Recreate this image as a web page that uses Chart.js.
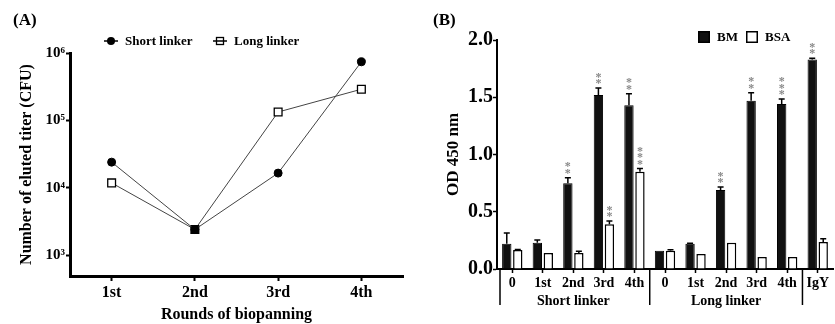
<!DOCTYPE html>
<html>
<head>
<meta charset="utf-8">
<script src="https://cdn.jsdelivr.net/npm/chart.js@4.4.1/dist/chart.umd.min.js"></script>
<style>
  html, body { margin: 0; padding: 0; background: #fff; }
  #wrap { position: relative; width: 835px; height: 324px; overflow: hidden; }
  canvas { position: absolute; top: 0; }
  #chartA { left: 0; }
  #chartB { left: 420px; }
</style>
</head>
<body>
<div id="wrap">
  <canvas id="chartA" width="420" height="324"></canvas>
  <canvas id="chartB" width="415" height="324"></canvas>
</div>
<script>
// Panel A: eluted titer per round
const rounds = ['1st', '2nd', '3rd', '4th'];
const shortLinker = [24000, 2400, 16500, 740000];
const longLinker = [11800, 2400, 133000, 290000];
const logTicks = [1e3, 1e4, 1e5, 1e6];

// Panel B: ELISA OD 450 nm
const odLabels = ['0', '1st', '2nd', '3rd', '4th', '0', '1st', '2nd', '3rd', '4th', 'IgY'];
const bmValues = [0.22, 0.23, 0.75, 1.52, 1.43, 0.16, 0.22, 0.69, 1.47, 1.44, 1.83];
const bmErrors = [0.095, 0.023, 0.046, 0.06, 0.10, 0, 0.005, 0.026, 0.07, 0.045, 0.01];
const bsaValues = [0.165, 0.14, 0.14, 0.39, 0.85, 0.16, 0.13, 0.23, 0.105, 0.105, 0.235];
const bsaErrors = [0.005, 0, 0.015, 0.03, 0.027, 0.008, 0, 0, 0, 0, 0.03];
const bmStars = [0, 0, 2, 2, 2, 0, 0, 2, 2, 3, 2];
const bsaStars = [0, 0, 0, 2, 3, 0, 0, 0, 0, 0, 0];
const groupNames = ['Short linker', 'Long linker', ''];
const groupSizes = [5, 5, 1];

const SERIF = "'Liberation Serif', 'Times New Roman', serif";
const sup = { 3: '\u00B3', 4: '\u2074', 5: '\u2075', 6: '\u2076' };

const panelLabel = {
    id: 'panelLabel',
    afterDraw(chart, args, opts) {
        const ctx = chart.ctx;
        ctx.save();
        ctx.font = 'bold 17px ' + SERIF;
        ctx.fillStyle = '#000';
        ctx.textBaseline = 'middle';
        ctx.fillText(opts.text, opts.x, opts.y);
        ctx.restore();
    }
};

// legend for panel A: marker with a short line through it
const lineLegend = {
    id: 'lineLegend',
    afterDraw(chart, args, opts) {
        const ctx = chart.ctx;
        ctx.save();
        ctx.font = 'bold 13px ' + SERIF;
        ctx.textBaseline = 'middle';
        chart.data.datasets.forEach((ds, i) => {
            const x = opts.xs[i];
            const y = opts.y;
            ctx.strokeStyle = '#000';
            ctx.lineWidth = 1.5;
            ctx.beginPath();
            ctx.moveTo(x, y);
            ctx.lineTo(x + 14, y);
            ctx.stroke();
            if (ds.pointStyle === 'circle') {
                ctx.fillStyle = '#000';
                ctx.beginPath();
                ctx.arc(x + 7, y, 4, 0, Math.PI * 2);
                ctx.fill();
            } else {
                ctx.lineWidth = 1.3;
                ctx.strokeRect(x + 3.5, y - 3.5, 7, 7);
            }
            ctx.fillStyle = '#000';
            ctx.fillText(ds.label, x + 21, y + 1);
        });
        ctx.restore();
    }
};

// legend for panel B: filled / open squares
const boxLegend = {
    id: 'boxLegend',
    afterDraw(chart, args, opts) {
        const ctx = chart.ctx;
        ctx.save();
        ctx.font = 'bold 13px ' + SERIF;
        ctx.textBaseline = 'middle';
        chart.data.datasets.forEach((ds, i) => {
            const x = opts.xs[i];
            const y = opts.y;
            ctx.fillStyle = ds.backgroundColor;
            ctx.fillRect(x, y - 6, 12, 12);
            ctx.strokeStyle = '#000';
            ctx.lineWidth = 1.5;
            ctx.strokeRect(x + 0.75, y - 5.25, 10.5, 10.5);
            ctx.fillStyle = '#000';
            ctx.fillText(ds.label, x + 19, y + 1);
        });
        ctx.restore();
    }
};

// one-sided error bars and significance stars
const errorStars = {
    id: 'errorStars',
    afterDatasetsDraw(chart) {
        const ctx = chart.ctx;
        const yScale = chart.scales.y;
        ctx.save();
        chart.data.datasets.forEach((ds, d) => {
            const meta = chart.getDatasetMeta(d);
            meta.data.forEach((bar, i) => {
                const v = ds.data[i];
                const e = ds.errors[i];
                const yTop = yScale.getPixelForValue(v + e);
                if (e > 0) {
                    ctx.strokeStyle = '#000';
                    ctx.lineWidth = 1.5;
                    ctx.beginPath();
                    ctx.moveTo(bar.x, bar.y);
                    ctx.lineTo(bar.x, yTop);
                    ctx.moveTo(bar.x - 3, yTop);
                    ctx.lineTo(bar.x + 3, yTop);
                    ctx.stroke();
                }
                ctx.fillStyle = '#888';
                ctx.font = 'bold 12px ' + SERIF;
                ctx.textAlign = 'center';
                ctx.textBaseline = 'middle';
                for (let s = 0; s < ds.stars[i]; s++) {
                    ctx.fillText('*', bar.x, yTop - 4 - s * 6.5);
                }
            });
        });
        ctx.restore();
    }
};

// group labels and separators under panel B x axis
const groupAxis = {
    id: 'groupAxis',
    afterDraw(chart) {
        const ctx = chart.ctx;
        const xs = chart.scales.x;
        const bottom = chart.chartArea.bottom;
        const half = (xs.getPixelForValue(1) - xs.getPixelForValue(0)) / 2;
        ctx.save();
        ctx.strokeStyle = '#000';
        ctx.lineWidth = 1.5;
        ctx.fillStyle = '#000';
        ctx.font = 'bold 14px ' + SERIF;
        ctx.textAlign = 'center';
        ctx.textBaseline = 'middle';
        let start = 0;
        const seps = [xs.getPixelForValue(0) - half + 3];
        groupSizes.forEach((n, g) => {
            const end = start + n - 1;
            const a = xs.getPixelForValue(start);
            const b = xs.getPixelForValue(end);
            if (groupNames[g]) ctx.fillText(groupNames[g], (a + b) / 2, 301);
            if (g < groupSizes.length - 1) seps.push(b + half);
            start = end + 1;
        });
        seps.forEach(x => {
            ctx.beginPath();
            ctx.moveTo(x, bottom);
            ctx.lineTo(x, 305);
            ctx.stroke();
        });
        ctx.restore();
    }
};

new Chart(document.getElementById('chartA'), {
    type: 'line',
    data: {
        labels: rounds,
        datasets: [{
            label: 'Short linker',
            data: shortLinker,
            borderColor: '#444',
            borderWidth: 1,
            pointStyle: 'circle',
            pointRadius: 4,
            pointBackgroundColor: '#000',
            pointBorderColor: '#000',
            pointBorderWidth: 1
        }, {
            label: 'Long linker',
            data: longLinker,
            borderColor: '#444',
            borderWidth: 1,
            pointStyle: 'rect',
            pointRadius: 5.5,
            pointBackgroundColor: ['#fff', '#000', '#fff', '#fff'],
            pointBorderColor: '#000',
            pointBorderWidth: 1.3
        }]
    },
    options: {
        responsive: false,
        animation: false,
        layout: { padding: { top: 53, right: 17, bottom: 0, left: 0 } },
        scales: {
            x: {
                offset: true,
                border: { color: '#000', width: 3 },
                grid: { drawOnChartArea: false, tickLength: 5, tickColor: '#000', tickWidth: 2 },
                ticks: { color: '#000', font: { family: SERIF, size: 16, weight: 'bold' }, padding: 2 },
                title: { display: true, text: 'Rounds of biopanning', color: '#000',
                         font: { family: SERIF, size: 16, weight: 'bold' }, padding: { top: 0, bottom: 0 } },
                afterFit: s => { s.height = 48; }
            },
            y: {
                type: 'logarithmic',
                min: 490,
                max: 1e6,
                border: { color: '#000', width: 3 },
                grid: { drawOnChartArea: false, tickLength: 4, tickColor: '#000', tickWidth: 2 },
                afterBuildTicks: s => { s.ticks = logTicks.map(v => ({ value: v })); },
                ticks: {
                    color: '#000',
                    font: { family: SERIF, size: 15, weight: 'bold' },
                    padding: 1,
                    callback: v => '10' + sup[Math.round(Math.log10(v))]
                },
                title: { display: true, text: 'Number of eluted titer (CFU)', color: '#000',
                         font: { family: SERIF, size: 16, weight: 'bold' }, padding: { top: 17, bottom: 0 } },
                afterFit: s => { s.width = 70; }
            }
        },
        plugins: {
            legend: { display: false },
            tooltip: { enabled: false },
            panelLabel: { text: '(A)', x: 13, y: 21 },
            lineLegend: { xs: [104, 213], y: 41 }
        }
    },
    plugins: [panelLabel, lineLegend]
});

new Chart(document.getElementById('chartB'), {
    type: 'bar',
    data: {
        labels: odLabels,
        datasets: [{
            label: 'BM',
            data: bmValues,
            errors: bmErrors,
            stars: bmStars,
            backgroundColor: '#111',
            borderColor: '#000',
            borderWidth: 1
        }, {
            label: 'BSA',
            data: bsaValues,
            errors: bsaErrors,
            stars: bsaStars,
            backgroundColor: '#fff',
            borderColor: '#000',
            borderWidth: 1.5
        }]
    },
    options: {
        responsive: false,
        animation: false,
        barPercentage: 0.85,
        categoryPercentage: 0.72,
        layout: { padding: { top: 40, right: 2, bottom: 0, left: 0 } },
        scales: {
            x: {
                border: { color: '#000', width: 2 },
                grid: { drawOnChartArea: false, offset: false, tickLength: 4, tickColor: '#000', tickWidth: 1.5 },
                ticks: { color: '#000', font: { family: SERIF, size: 14, weight: 'bold' }, padding: 2, maxRotation: 0, autoSkip: false },
                afterFit: s => { s.height = 55; }
            },
            y: {
                min: 0,
                max: 2,
                border: { color: '#000', width: 2 },
                grid: { drawOnChartArea: false, tickLength: 4, tickColor: '#000', tickWidth: 1.5 },
                ticks: {
                    stepSize: 0.5,
                    color: '#000',
                    font: { family: SERIF, size: 20, weight: 'bold' },
                    padding: 0,
                    callback: v => v.toFixed(1)
                },
                title: { display: true, text: 'OD 450 nm', color: '#000',
                         font: { family: SERIF, size: 17, weight: 'bold' }, padding: { top: 23, bottom: 0 } },
                afterFit: s => { s.width = 77; }
            }
        },
        plugins: {
            legend: { display: false },
            tooltip: { enabled: false },
            panelLabel: { text: '(B)', x: 13, y: 21 },
            boxLegend: { xs: [278, 326], y: 37 }
        }
    },
    plugins: [panelLabel, boxLegend, errorStars, groupAxis]
});
</script>
</body>
</html>
